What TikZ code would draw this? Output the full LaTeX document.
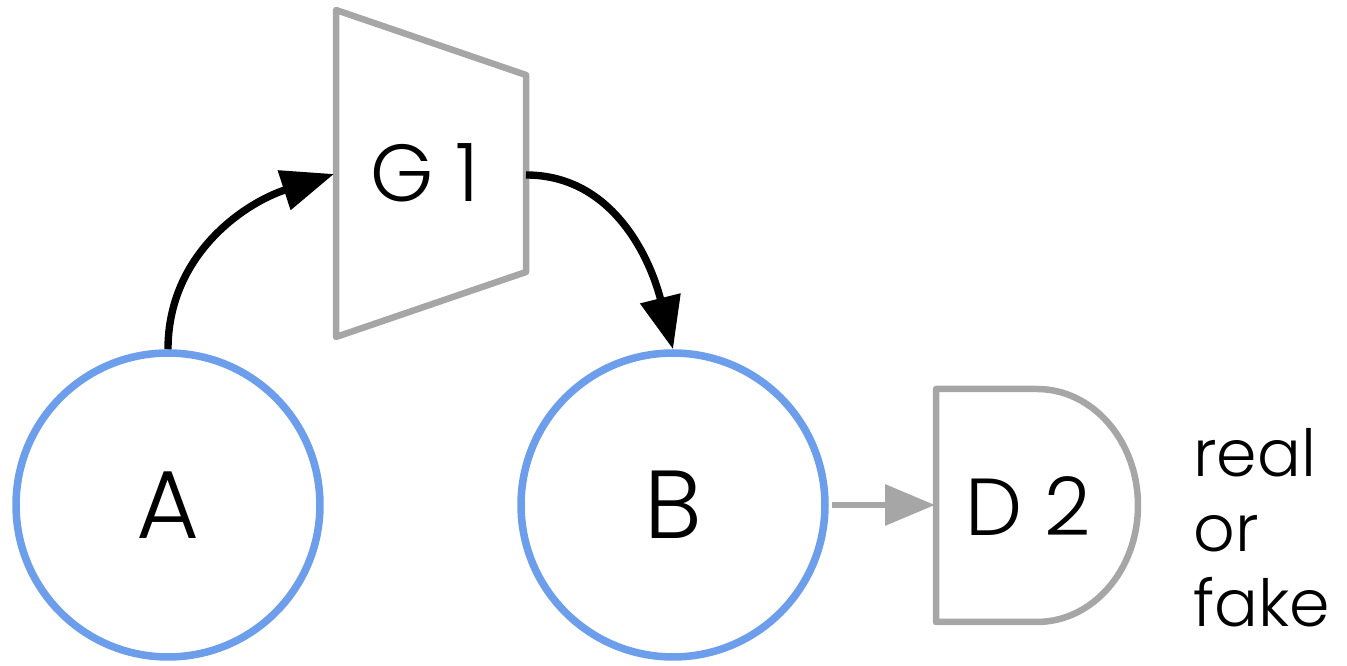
\documentclass[tikz,border=0pt]{standalone}
\usepackage{fontspec}
\setmainfont{Poppins Light}
\usetikzlibrary{arrows.meta}
\definecolor{nodeblue}{HTML}{6D9EEB}
\definecolor{netgray}{HTML}{A6A6A6}

\begin{document}
\begin{tikzpicture}[x=0.02cm, y=0.02cm,
	var/.style={circle, draw=nodeblue, line width=4.3pt, minimum size=6.08cm, inner sep=0pt, font=\fontsize{55}{60}\selectfont},
	net/.style={draw=netgray, line width=3.7pt, line join=round},
	flow/.style={line width=4.2pt, -{Triangle[length=1.05cm, width=0.8cm]}},
	feed/.style={netgray, line width=3.7pt, -{Triangle[length=1cm, width=0.8cm]}},
	lbl/.style={font=\fontsize{46}{50}\selectfont}]
	
	\useasboundingbox (0,0) rectangle (1347,666);
	
	% the two variables
	\node[var] (A) at (168,161) {A};
	\node[var] (B) at (673,161) {B};
	
	% generator
	\draw[net] (336,656) -- (526,591) -- (526,394) -- (336,329) -- cycle;
	\node[lbl] (G) at (425,493) {G 1};
	\coordinate (gin) at (334,492);
	\coordinate (gout) at (526,491);
	
	% discriminator
	\draw[net] (936,44) -- (936,277) -- (1037,277) arc[start angle=90, end angle=-90, x radius=2.02cm, y radius=2.33cm] -- cycle;
	\node[lbl] (D) at (1028,160) {D 2};
	\coordinate (din) at (935,161);
	\node[anchor=west, align=left, inner sep=0pt, font=\fontsize{37}{42.75}\selectfont] (out) at (1193,138) {real\\or\\fake};
	
	\draw[flow] (A.north) to[out=90, in=198] (gin);
	\draw[flow] (gout) to[out=0, in=104] (B.north);
	\draw[feed, shorten <=2pt] (B.east) -- (din);
	
\end{tikzpicture}
\end{document}
